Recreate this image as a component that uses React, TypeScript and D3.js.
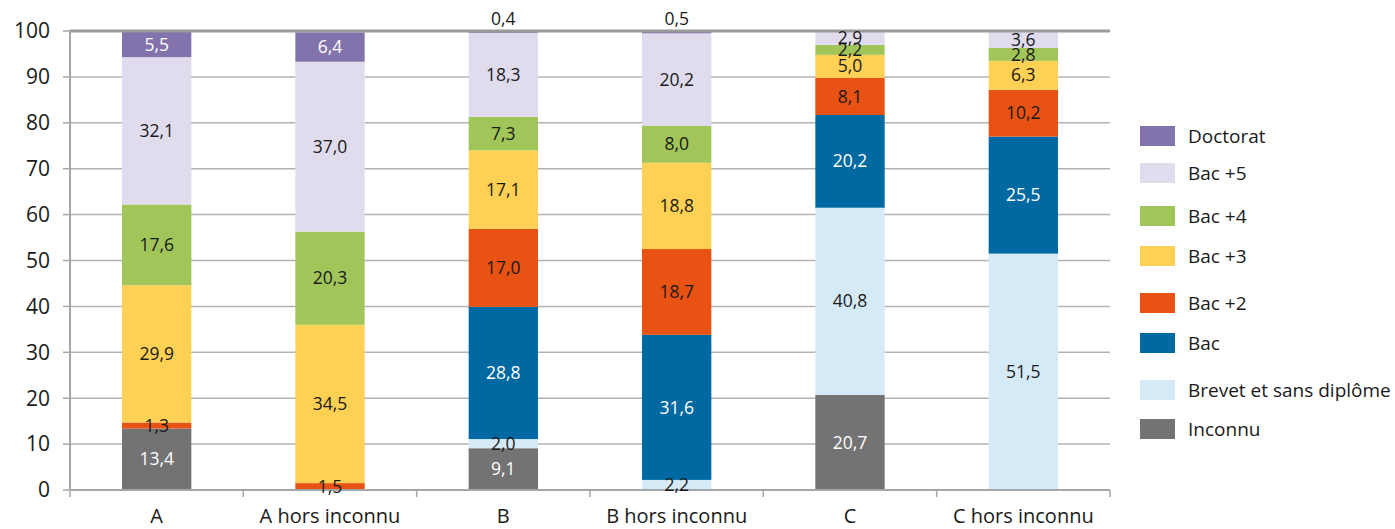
import React from 'react';
import * as d3 from 'd3';

const categories = ['A', 'A hors inconnu', 'B', 'B hors inconnu', 'C', 'C hors inconnu'];
const seriesNames = ['Inconnu', 'Brevet et sans diplôme', 'Bac', 'Bac +2', 'Bac +3', 'Bac +4', 'Bac +5', 'Doctorat'];
const seriesColors = ['#737373', '#d4ebf7', '#0069a1', '#e85213', '#fed053', '#a1c558', '#e0dcee', '#8273ad'];
const whiteText = ['Inconnu', 'Bac', 'Doctorat'];

// values per category, bottom to top (same order as seriesNames)
const inconnu = [13.4, 0, 9.1, 0, 20.7, 0];
const brevet = [0, 0, 2.0, 2.2, 40.8, 51.5];
const bac = [0, 0, 28.8, 31.6, 20.2, 25.5];
const bac2 = [1.3, 1.5, 17.0, 18.7, 8.1, 10.2];
const bac3 = [29.9, 34.5, 17.1, 18.8, 5.0, 6.3];
const bac4 = [17.6, 20.3, 7.3, 8.0, 2.2, 2.8];
const bac5 = [32.1, 37.0, 18.3, 20.2, 2.9, 3.6];
const doctorat = [5.5, 6.4, 0.4, 0.5, 0, 0];
const seriesValues = [inconnu, brevet, bac, bac2, bac3, bac4, bac5, doctorat];

const yTicks = [0, 10, 20, 30, 40, 50, 60, 70, 80, 90, 100];
const legendOrder = ['Doctorat', 'Bac +5', 'Bac +4', 'Bac +3', 'Bac +2', 'Bac', 'Brevet et sans diplôme', 'Inconnu'];
// legend rows are not evenly spaced in the original
const legendY = [136, 173, 216, 256, 303, 343, 390, 429];

const W = 1395;
const H = 529;
const left = 70;
const right = 1110;
const top = 31;
const bottom = 490;
const font = '"Open Sans", "Noto Sans", sans-serif';

const fmt = (v: number) => v.toFixed(1).replace('.', ',');

export default function App() {
  const x = d3.scaleBand().domain(categories).range([left, right]).paddingInner(0.6).paddingOuter(0.3);
  const y = d3.scaleLinear().domain([0, 100]).range([bottom, top]);

  const rows = categories.map((c, i) => {
    const r: Record<string, any> = { category: c };
    seriesNames.forEach((s, k) => { r[s] = seriesValues[k][i]; });
    return r;
  });
  const stacked = d3.stack<Record<string, any>>().keys(seriesNames)(rows);

  const step = (right - left) / categories.length;
  const boundaries = d3.range(categories.length + 1).map(i => left + i * step);

  return (
    <svg width={W} height={H} style={{ position: 'absolute', left: 0, top: 0, fontFamily: font }}>
      <rect width={W} height={H} fill="#fff" />
      {/* grid */}
      {yTicks.filter(t => t > 0 && t < 100).map(t => (
        <line key={t} x1={left} x2={right} y1={y(t)} y2={y(t)} stroke="#b3b3b3" strokeWidth={1.5} />
      ))}
      {/* bars */}
      {stacked.map((layer, k) => (
        <g key={layer.key} fill={seriesColors[k]}>
          {layer.map((d, i) => {
            const v = d[1] - d[0];
            if (v <= 0) return null;
            return (
              <rect key={i} x={x(categories[i])!} width={x.bandwidth()} y={y(d[1])} height={y(d[0]) - y(d[1])} />
            );
          })}
        </g>
      ))}
      {/* axes */}
      <line x1={left} x2={right} y1={top} y2={top} stroke="#999" strokeWidth={3} />
      <line x1={left} x2={left} y1={top} y2={bottom} stroke="#a6a6a6" strokeWidth={2} />
      <line x1={left} x2={right} y1={bottom} y2={bottom} stroke="#a6a6a6" strokeWidth={2} />
      {yTicks.map(t => (
        <g key={t}>
          <line x1={left - 7} x2={left} y1={y(t)} y2={y(t)} stroke="#a6a6a6" strokeWidth={1.5} />
          <text x={50} y={y(t)} dy="0.35em" textAnchor="end" fontSize={21} fill="#1a1a1a">{t}</text>
        </g>
      ))}
      {boundaries.map((b, i) => (
        <line key={i} x1={b} x2={b} y1={bottom} y2={bottom + 7} stroke="#a6a6a6" strokeWidth={1.5} />
      ))}
      {categories.map(c => (
        <text key={c} x={x(c)! + x.bandwidth() / 2} y={523} textAnchor="middle" fontSize={20} fill="#1a1a1a">{c}</text>
      ))}
      {/* value labels */}
      {stacked.map((layer, k) => layer.map((d, i) => {
        const v = d[1] - d[0];
        if (v <= 0) return null;
        const cx = x(categories[i])! + x.bandwidth() / 2;
        const above = v < 1;
        const cy = above ? y(d[1]) - 12 : (y(d[0]) + y(d[1])) / 2;
        return (
          <text key={`${k}-${i}`} x={cx} y={cy} dy="0.35em" textAnchor="middle" fontSize={17.5}
            fill={!above && whiteText.includes(layer.key) ? '#fff' : '#1a1a1a'}>{fmt(v)}</text>
        );
      }))}
      {/* legend */}
      {legendOrder.map((name, i) => {
        const ly = legendY[i];
        const col = seriesColors[seriesNames.indexOf(name)];
        return (
          <g key={name}>
            <rect x={1140} y={ly - 10} width={35} height={20} fill={col} />
            <text x={1188} y={ly} dy="0.35em" fontSize={19} fill="#1a1a1a">{name}</text>
          </g>
        );
      })}
    </svg>
  );
}
